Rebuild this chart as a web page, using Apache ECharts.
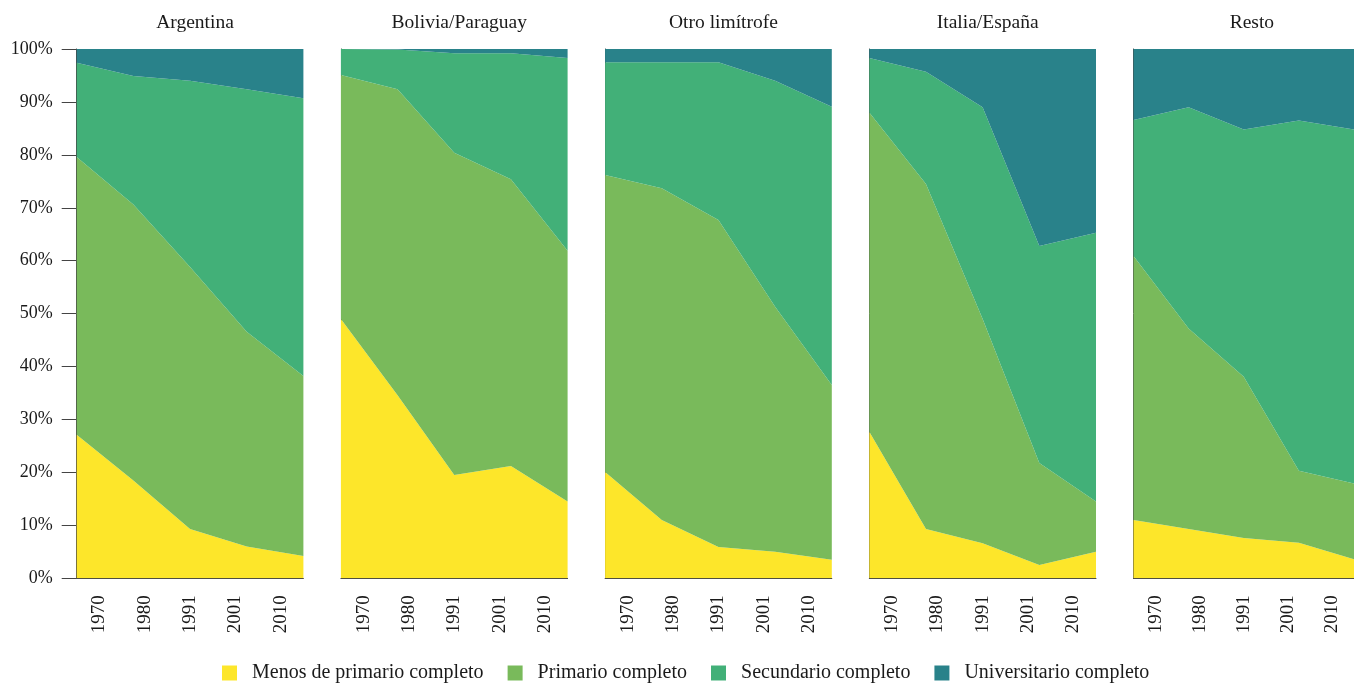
<!DOCTYPE html>
<html>
<head>
<meta charset="utf-8">
<script src="https://cdn.jsdelivr.net/npm/echarts@6/dist/echarts.min.js"></script>
<style>
  html, body { margin: 0; padding: 0; background: #fff; }
  #chart { width: 1354px; height: 683px; }
</style>
</head>
<body>
<div id="chart"></div>
<script>
var years = ['1970', '1980', '1991', '2001', '2010'];
var panels = ['Argentina', 'Bolivia/Paraguay', 'Otro limítrofe', 'Italia/España', 'Resto'];
var levels = ['Menos de primario completo', 'Primario completo', 'Secundario completo', 'Universitario completo'];
var colors = ['#fde62a', '#79ba5b', '#42b078', '#29828a'];

// porcentajes por panel (Argentina, Bolivia/Paraguay, Otro limítrofe, Italia/España, Resto)
var menosPrimario = [
    [27.1, 18.5, 9.3, 6.0, 4.2],
    [49.0, 34.6, 19.5, 21.2, 14.5],
    [20.1, 11.0, 5.9, 5.0, 3.5],
    [27.7, 9.3, 6.6, 2.5, 5.0],
    [11.0, 9.3, 7.6, 6.7, 3.6]
];
var primario = [
    [52.5, 52.1, 49.5, 40.6, 34.0],
    [46.1, 57.8, 60.9, 54.2, 47.4],
    [56.1, 62.7, 61.8, 46.3, 33.0],
    [60.3, 65.2, 42.4, 19.3, 9.5],
    [49.9, 37.9, 30.5, 13.6, 14.3]
];
var secundario = [
    [17.8, 24.3, 35.2, 45.8, 52.5],
    [4.9, 7.5, 18.8, 23.8, 36.4],
    [21.3, 23.8, 29.8, 42.7, 52.6],
    [10.3, 21.2, 40.0, 41.0, 50.8],
    [25.7, 41.8, 46.7, 66.2, 66.9]
];
var universitario = [
    [2.6, 5.1, 6.0, 7.6, 9.3],
    [0.0, 0.1, 0.8, 0.8, 1.7],
    [2.5, 2.5, 2.5, 6.0, 10.9],
    [1.7, 4.3, 11.0, 37.2, 34.7],
    [13.4, 11.0, 15.2, 13.5, 15.2]
];

var font = 'Liberation Serif';
var gridLeft = 76.7, gridStep = 264.2, gridWidth = 226.7;
var chart = echarts.init(document.getElementById('chart'));

var titles = [], grids = [], xAxes = [], yAxes = [], series = [];
var allData = [menosPrimario, primario, secundario, universitario];

panels.forEach(function (name, i) {
    var left = gridLeft + gridStep * i;
    titles.push({
        text: name,
        left: left + gridWidth / 2,
        top: 8,
        textAlign: 'center',
        textStyle: { fontFamily: font, fontSize: 19.5, fontWeight: 'normal', color: '#1a1a1a' }
    });
    grids.push({ left: left, top: 49, width: gridWidth, height: 529.3 });
    // eje visible con etiquetas entre marcas
    xAxes.push({
        type: 'category',
        gridIndex: i,
        data: years,
        boundaryGap: true,
        axisLine: { lineStyle: { color: '#444', width: 1 } },
        axisTick: { length: 15, lineStyle: { color: '#444' } },
        axisLabel: { rotate: 90, margin: 17, fontFamily: font, fontSize: 19, color: '#1a1a1a' }
    });
    // eje oculto para los datos, de borde a borde
    xAxes.push({
        type: 'category',
        gridIndex: i,
        data: years,
        boundaryGap: false,
        show: false
    });
    yAxes.push({
        type: 'value',
        gridIndex: i,
        min: 0,
        max: 100,
        interval: 10,
        splitLine: { show: false },
        axisLine: { show: true, lineStyle: { color: '#444', width: 1 } },
        axisTick: { show: i === 0, length: 15, lineStyle: { color: '#444' } },
        axisLabel: {
            show: i === 0,
            margin: 24,
            formatter: '{value}%',
            fontFamily: font,
            fontSize: 18,
            color: '#1a1a1a'
        }
    });
    levels.forEach(function (lv, k) {
        series.push({
            name: lv,
            type: 'line',
            xAxisIndex: 2 * i + 1,
            yAxisIndex: i,
            stack: 'p' + i,
            data: allData[k][i],
            showSymbol: false,
            symbol: 'none',
            lineStyle: { width: 0 },
            areaStyle: { color: colors[k], opacity: 1 },
            itemStyle: { color: colors[k] },
            animation: false
        });
    });
});

chart.setOption({
    animation: false,
    title: titles,
    grid: grids,
    xAxis: xAxes,
    yAxis: yAxes,
    legend: {
        data: levels,
        top: 663,
        left: 222,
        padding: 0,
        icon: 'rect',
        itemWidth: 15,
        itemHeight: 15,
        itemGap: 24,
        textStyle: { fontFamily: font, fontSize: 20, color: '#1a1a1a', padding: [0, 0, 0, 10] }
    },
    series: series
});
</script>
</body>
</html>
